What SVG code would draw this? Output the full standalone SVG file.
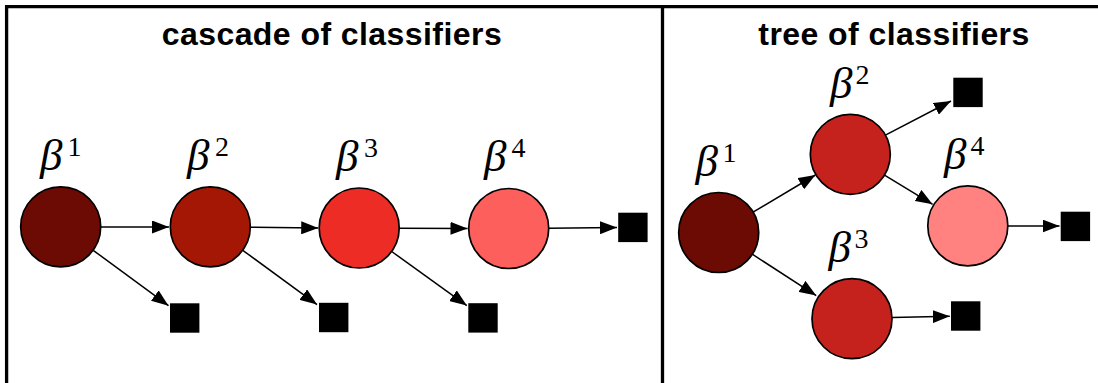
<svg xmlns="http://www.w3.org/2000/svg" width="1098" height="383" viewBox="0 0 1098 383">
  <style>
    .frame { fill: none; stroke: #000; stroke-width: 3.3; }
    .title { font-family: "Liberation Sans", Arial, sans-serif; font-weight: bold; font-size: 32px; fill: #000; }
    .node circle { stroke: #000; stroke-width: 1.7; }
    .beta { font-family: "Liberation Serif", "Times New Roman", serif; font-style: italic; font-size: 45px; fill: #000; }
    .sup { font-family: "Liberation Serif", "Times New Roman", serif; font-size: 28px; fill: #000; }
    .leaf { fill: #000; }
    .edges line { stroke: #000; stroke-width: 1.5; marker-end: url(#arrow); }
  </style>
  <defs>
    <marker id="arrow" markerUnits="userSpaceOnUse" markerWidth="18" markerHeight="13" refX="17" refY="6.5" orient="auto">
      <path d="M0,0 L17,6.5 L0,13 Z" fill="#000"/>
    </marker>
  </defs>

  <rect width="1098" height="383" fill="#fff"/>

  <!-- panel frame: top rule, left rule, divider -->
  <g id="frame">
    <path class="frame" d="M6.6,383 V6.6 H1098"/>
    <path class="frame" d="M662.5,6.6 V383"/>
  </g>

  <text class="title" x="161.7" y="45" textLength="340" lengthAdjust="spacing">cascade of classifiers</text>
  <text class="title" x="758.3" y="45" textLength="271" lengthAdjust="spacing">tree of classifiers</text>

  <!-- cascade nodes -->
  <g id="c1" class="node">
    <circle cx="60.7" cy="226.8" r="40" fill="#6b0b03"/>
    <text><tspan class="beta" x="40" y="170">β</tspan><tspan class="sup" x="67.5" y="156">1</tspan></text>
  </g>
  <g id="c2" class="node">
    <circle cx="210.3" cy="226.8" r="40" fill="#a41705"/>
    <text><tspan class="beta" x="187" y="170">β</tspan><tspan class="sup" x="215" y="156">2</tspan></text>
  </g>
  <g id="c3" class="node">
    <circle cx="359.2" cy="228" r="40" fill="#ee2c26"/>
    <text><tspan class="beta" x="336" y="171">β</tspan><tspan class="sup" x="364" y="157">3</tspan></text>
  </g>
  <g id="c4" class="node">
    <circle cx="508.7" cy="228.5" r="40" fill="#fd5f5d"/>
    <text><tspan class="beta" x="484" y="171">β</tspan><tspan class="sup" x="511.5" y="157">4</tspan></text>
  </g>
  <rect id="c1-out" class="leaf" x="170" y="303.3" width="29.4" height="29.4"/>
  <rect id="c2-out" class="leaf" x="319" y="302.8" width="29.4" height="29.4"/>
  <rect id="c3-out" class="leaf" x="468.3" y="303.2" width="29.4" height="29.4"/>
  <rect id="c4-out" class="leaf" x="618.2" y="212.7" width="29.4" height="29.4"/>

  <!-- tree nodes -->
  <g id="t1" class="node">
    <circle cx="718.7" cy="232.5" r="40" fill="#6b0b03"/>
    <text><tspan class="beta" x="695.5" y="175.5">β</tspan><tspan class="sup" x="722.5" y="161.5">1</tspan></text>
  </g>
  <g id="t2" class="node">
    <circle cx="850.3" cy="154.3" r="40" fill="#c5221e"/>
    <text><tspan class="beta" x="830" y="97.5">β</tspan><tspan class="sup" x="855.5" y="83.5">2</tspan></text>
  </g>
  <g id="t3" class="node">
    <circle cx="852" cy="318.7" r="40" fill="#c5221e"/>
    <text><tspan class="beta" x="828.5" y="262">β</tspan><tspan class="sup" x="854.5" y="248">3</tspan></text>
  </g>
  <g id="t4" class="node">
    <circle cx="967.8" cy="225.8" r="40" fill="#ff8280"/>
    <text><tspan class="beta" x="944" y="169">β</tspan><tspan class="sup" x="970.5" y="155">4</tspan></text>
  </g>
  <rect id="t2-out" class="leaf" x="953.3" y="77.7" width="29.4" height="29.4"/>
  <rect id="t4-out" class="leaf" x="1060.7" y="211.7" width="29.4" height="29.4"/>
  <rect id="t3-out" class="leaf" x="951" y="301.3" width="29.4" height="29.4"/>

  <!-- connectors -->
  <g id="connectors" class="edges">
    <line x1="100.7" y1="227" x2="169" y2="227"/>
    <line x1="250.2" y1="227.3" x2="318.2" y2="228"/>
    <line x1="399.2" y1="228.2" x2="467.5" y2="228.4"/>
    <line x1="548.6" y1="228.2" x2="617" y2="227.6"/>
    <line x1="93.2" y1="250.3" x2="168.5" y2="305.7"/>
    <line x1="242.8" y1="250.3" x2="317" y2="304.6"/>
    <line x1="391.7" y1="251.5" x2="466.8" y2="305.6"/>

    <line x1="753.1" y1="212.1" x2="815.4" y2="175"/>
    <line x1="885.4" y1="135.1" x2="951" y2="101"/>
    <line x1="884.5" y1="175.1" x2="932.6" y2="204.3"/>
    <line x1="1007.8" y1="226" x2="1059.5" y2="226"/>
    <line x1="752.3" y1="254.2" x2="816.2" y2="295.6"/>
    <line x1="892" y1="317.6" x2="949.8" y2="316.2"/>
  </g>
</svg>
